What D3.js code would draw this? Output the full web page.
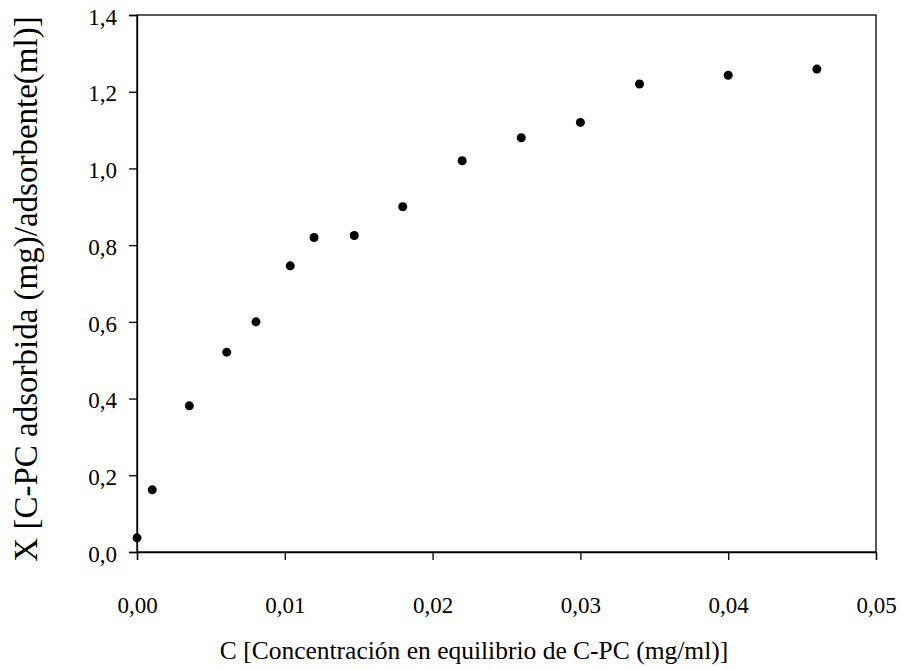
<!DOCTYPE html>
<html>
<head>
<meta charset="utf-8">
<script src="https://cdn.jsdelivr.net/npm/d3@7"></script>
<style>
  body { margin: 0; background: #fff; }
  svg text { font-family: 'Liberation Serif', 'Tinos', 'DejaVu Serif', serif; fill: #000; }
</style>
</head>
<body>
<svg id="chart" width="904" height="670"></svg>
<script>
// concentration in equilibrium (mg/ml) vs adsorbed amount
const concC = [0, 0.00103, 0.00354, 0.00607, 0.00805, 0.01037, 0.01198, 0.0147, 0.01798, 0.022, 0.026, 0.03, 0.034, 0.04, 0.046];
const adsX = [0.037, 0.162, 0.381, 0.521, 0.600, 0.746, 0.820, 0.825, 0.900, 1.020, 1.080, 1.120, 1.220, 1.243, 1.259];
const xTicks = [0, 0.01, 0.02, 0.03, 0.04, 0.05];
const yTicks = [0, 0.2, 0.4, 0.6, 0.8, 1.0, 1.2, 1.4];

const margin = { top: 15, right: 28, bottom: 118, left: 137 };
const width = 904, height = 670;
const serif = "'Liberation Serif', 'Tinos', 'DejaVu Serif', serif";

const svg = d3.select('#chart');
const x = d3.scaleLinear().domain([0, 0.05]).range([margin.left, width - margin.right]);
const y = d3.scaleLinear().domain([0, 1.4]).range([height - margin.bottom, margin.top]);

const comma = (f) => (d) => d3.format(f)(d).replace('.', ',');

// frame
svg.append('rect')
    .attr('x', x(0)).attr('y', y(1.4))
    .attr('width', x(0.05) - x(0)).attr('height', y(0) - y(1.4))
    .attr('fill', 'none').attr('stroke', '#000').attr('stroke-width', 1.3);

const xAxis = svg.append('g')
    .attr('transform', `translate(0,${y(0)})`)
    .call(d3.axisBottom(x).tickValues(xTicks).tickFormat(comma('.2f')).tickSizeOuter(0).tickSize(8).tickPadding(37));
const yAxis = svg.append('g')
    .attr('transform', `translate(${x(0)},0)`)
    .call(d3.axisLeft(y).tickValues(yTicks).tickFormat(comma('.1f')).tickSizeOuter(0).tickSize(8).tickPadding(12));

[xAxis, yAxis].forEach((g) => {
    g.attr('font-family', serif).attr('font-size', 23);
    g.select('.domain').attr('stroke', '#000').attr('stroke-width', 1.3);
    g.selectAll('.tick line').attr('stroke', '#000').attr('stroke-width', 1.3);
    g.selectAll('.tick text').attr('fill', '#000');
});
yAxis.selectAll('.tick text').attr('dy', '0.4em');

// data points
svg.append('g').selectAll('circle')
    .data(concC)
    .enter()
    .append('circle')
    .attr('cx', (d) => x(d))
    .attr('cy', (d, i) => y(adsX[i]))
    .attr('r', 4.5)
    .attr('fill', '#000');

// axis titles
svg.append('text')
    .attr('x', 474).attr('y', 659)
    .attr('text-anchor', 'middle')
    .attr('font-family', serif)
    .attr('font-size', 25.5)
    .text('C [Concentración en equilibrio de C-PC (mg/ml)]');

svg.append('text')
    .attr('transform', 'translate(37,289) rotate(-90)')
    .attr('text-anchor', 'middle')
    .attr('font-family', serif)
    .attr('font-size', 33)
    .text('X [C-PC adsorbida (mg)/adsorbente(ml)]');
</script>
</body>
</html>
